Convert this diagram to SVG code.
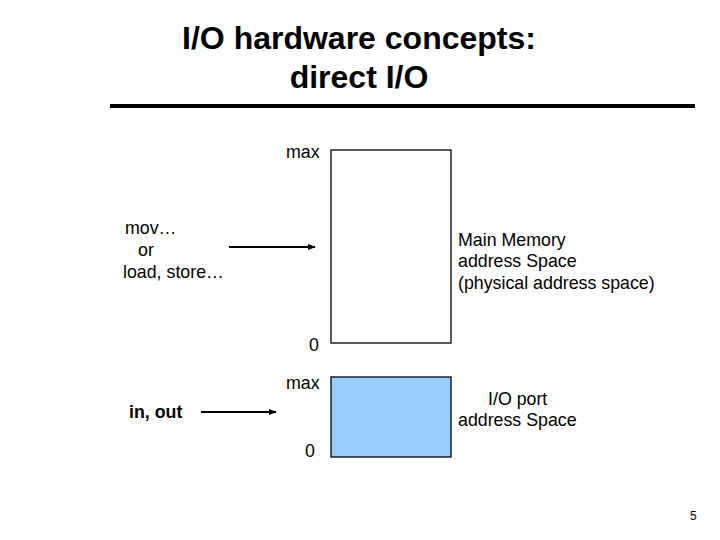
<svg xmlns="http://www.w3.org/2000/svg" width="720" height="540" viewBox="0 0 720 540">
<style>
text{font-family:"Liberation Sans",Arial,sans-serif;fill:#000}
.t{font-size:32px;font-weight:bold;text-anchor:middle}
.l{font-size:17.8px}
.b{font-size:17.8px;font-weight:bold}
.box{stroke:#000;stroke-width:1.3}
.c{stroke:#000;stroke-width:2;fill:none;marker-end:url(#ah)}
</style>
<defs>
<marker id="ah" viewBox="0 0 10 10" refX="9" refY="5" markerWidth="4" markerHeight="4" orient="auto" markerUnits="strokeWidth">
<path d="M0,1 L10,5 L0,9 Z" fill="#000"/>
</marker>
</defs>
<rect width="720" height="540" fill="#fff"/>
<g id="title">
<text class="t" x="359" y="49">I/O hardware concepts:</text>
<text class="t" x="359" y="88">direct I/O</text>
<rect x="110" y="104" width="585" height="4" fill="#000"/>
</g>
<g id="main-memory">
<rect class="box" x="331" y="150" width="120" height="193" fill="#fff"/>
<text class="l" x="286" y="158">max</text>
<text class="l" x="309" y="351">0</text>
<text class="l" x="458" y="246">Main Memory</text>
<text class="l" x="458" y="267">address Space</text>
<text class="l" x="458" y="289">(physical address space)</text>
</g>
<g id="io-port">
<rect class="box" x="331" y="377" width="120" height="80" fill="#99ccff"/>
<text class="l" x="286" y="389">max</text>
<text class="l" x="305" y="457">0</text>
<text class="l" x="488" y="405">I/O port</text>
<text class="l" x="458" y="426">address Space</text>
</g>
<g id="mov">
<text class="l" x="125" y="234">mov…</text>
<text class="l" x="138" y="256">or</text>
<text class="l" x="123" y="278">load, store…</text>
</g>
<g id="inout">
<text class="b" x="129" y="418">in, out</text>
</g>
<g id="connectors">
<line class="c" x1="229" y1="247" x2="315" y2="247"/>
<line class="c" x1="201" y1="412" x2="276" y2="412"/>
</g>
<text x="690" y="520" style="font-size:12px">5</text>
</svg>
